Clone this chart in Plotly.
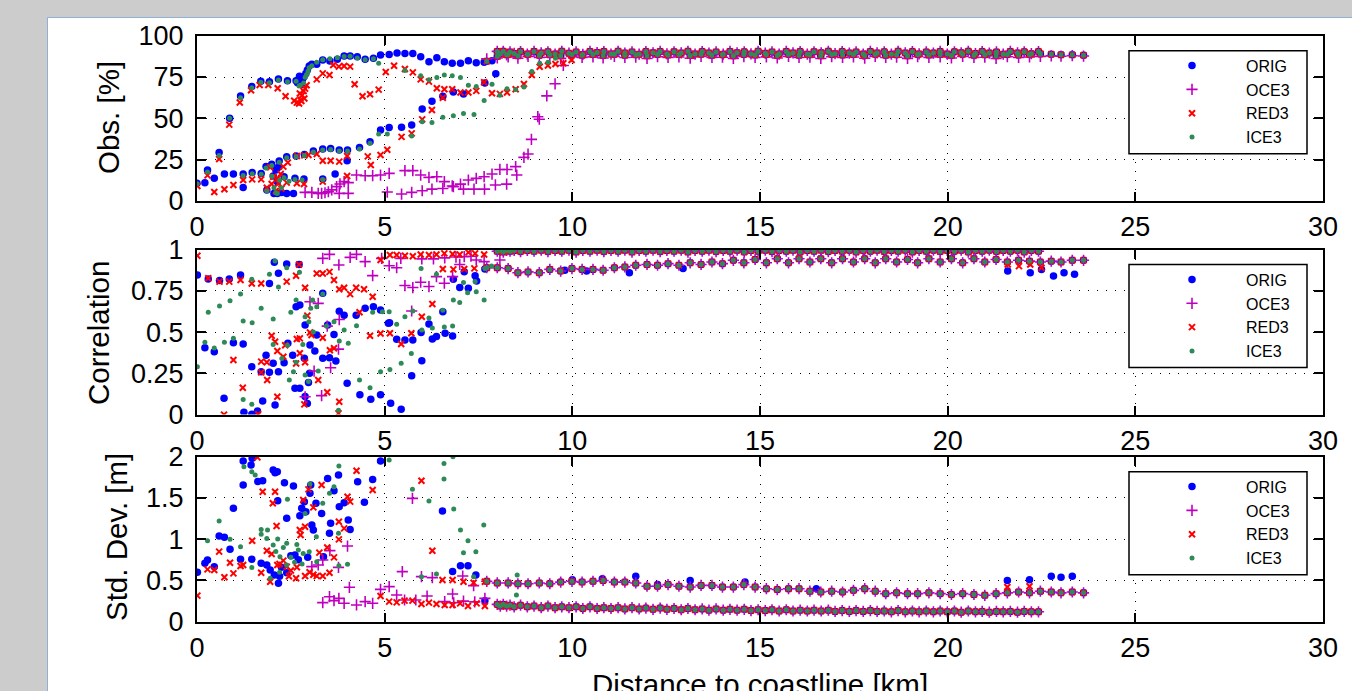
import plotly.graph_objects as go

# ------------------------------------------------------------------ data
series_names = ["ORIG", "OCE3", "RED3", "ICE3"]
x_ticks = [0, 5, 10, 15, 20, 25, 30]
x_tick_labels = ["0", "5", "10", "15", "20", "25", "30"]
obs_ticks = [0, 25, 50, 75, 100]
obs_tick_labels = ["0", "25", "50", "75", "100"]
corr_ticks = [0, 0.25, 0.5, 0.75, 1]
corr_tick_labels = ["0", "0.25", "0.5", "0.75", "1"]
std_ticks = [0, 0.5, 1, 1.5, 2]
std_tick_labels = ["0", "0.5", "1", "1.5", "2"]

# offshore track positions (km)
far_dense_km = [
    8.00, 8.08, 8.16, 8.25, 8.34, 8.45, 8.62, 8.80, 8.98, 9.17,
    9.35, 9.54, 9.72, 9.91, 10.10, 10.28, 10.47, 10.66, 10.84, 11.03,
    11.22, 11.40, 11.59, 11.78, 11.96, 12.15, 12.34, 12.52, 12.71, 12.90,
    13.08, 13.27, 13.46, 13.64, 13.83, 14.02, 14.20, 14.39, 14.58, 14.76,
    14.95, 15.14, 15.32, 15.51, 15.70, 15.88, 16.07, 16.26, 16.44, 16.63,
    16.82, 17.00, 17.19, 17.38, 17.56, 17.75, 17.94, 18.12, 18.31, 18.50,
    18.68, 18.87, 19.06, 19.24, 19.43, 19.62, 19.80, 19.99, 20.18, 20.36,
    20.55, 20.74, 20.92, 21.11, 21.30, 21.48, 21.67, 21.86, 22.04, 22.23,
    22.42]
far_sparse_km = [
    7.72, 8.00, 8.29, 8.55, 8.82, 9.12, 9.40, 9.69, 9.99, 10.26,
    10.55, 10.82, 11.12, 11.40, 11.69, 11.99, 12.27, 12.55, 12.84, 13.14,
    13.43, 13.72, 14.00, 14.29, 14.57, 14.87, 15.17, 15.46, 15.76, 16.04,
    16.33, 16.62, 16.91, 17.20, 17.49, 17.79, 18.07, 18.35, 18.64, 18.93,
    19.20, 19.50, 19.80, 20.10, 20.40, 20.70, 20.99, 21.29, 21.59, 21.89,
    22.18, 22.47, 22.76, 23.02, 23.32, 23.62]

obs_far_band = [
    90.5, 89.0, 90.6, 88.4, 90.2, 89.3, 90.4, 88.8, 90.5, 89.6,
    90.3, 88.9, 90.6, 89.4, 90.2, 88.7, 90.5, 89.8, 90.4, 88.9,
    90.6, 89.5, 90.2, 88.8, 90.4, 89.7, 90.5, 89.0, 90.3, 89.6,
    90.6, 88.9, 90.4, 89.5, 90.2, 88.8, 90.5, 89.7, 90.3, 89.0,
    90.6, 89.4, 90.2, 88.9, 90.5, 89.6, 90.4, 88.8, 90.3, 89.7,
    90.6, 89.1, 90.4, 89.5, 90.2, 88.9, 90.5, 89.6, 90.3, 88.8,
    90.6, 89.6, 90.4, 89.0, 90.2, 89.5, 90.5, 88.9, 90.3, 89.7,
    90.6, 89.2, 90.4, 89.5, 90.2, 88.8, 90.5, 89.6, 90.3, 89.1,
    90.4]
obs_far_track = [
    84.5, 87.5, 88.6, 87.9, 88.8, 88.2, 88.5, 87.8, 88.7, 88.1,
    88.6, 88.0, 88.8, 88.2, 88.5, 87.9, 88.7, 88.3, 88.6, 88.0,
    88.8, 88.2, 88.5, 87.9, 88.7, 88.3, 88.6, 88.0, 88.8, 88.2,
    88.5, 87.9, 88.7, 88.3, 88.6, 88.0, 88.8, 88.2, 88.5, 87.9,
    88.7, 88.3, 88.6, 88.0, 88.8, 88.2, 88.5, 87.9, 88.7, 88.3,
    88.6, 89.0, 88.8, 88.5, 88.4, 88.2]
obs_far_track_oce3 = [
    86.0, 86.5, 87.2, 86.4, 87.5, 86.8, 87.0, 86.3, 87.4, 86.9,
    87.2, 86.5, 87.5, 86.8, 87.0, 86.2, 87.3, 86.9, 87.1, 86.4,
    87.5, 86.8, 87.0, 86.3, 87.4, 86.9, 87.2, 86.5, 87.5, 86.8,
    87.0, 86.2, 87.3, 86.9, 87.1, 86.4, 87.5, 86.8, 87.0, 86.3,
    87.4, 86.9, 87.2, 86.5, 87.5, 86.8, 87.0, 86.2, 87.3, 86.9,
    87.1, 87.5, 87.8, 87.6, 87.9, 87.7]

corr_far_top = [
    0.990, 0.995, 0.985, 0.995, 0.990, 0.995, 0.988, 0.995, 0.990, 0.996,
    0.988, 0.995, 0.990, 0.996, 0.985, 0.995, 0.990, 0.996, 0.988, 0.995,
    0.990, 0.996, 0.985, 0.995, 0.990, 0.996, 0.988, 0.995, 0.990, 0.996,
    0.985, 0.995, 0.990, 0.996, 0.988, 0.995, 0.990, 0.996, 0.985, 0.995,
    0.990, 0.996, 0.988, 0.995, 0.990, 0.996, 0.985, 0.995, 0.990, 0.996,
    0.988, 0.995, 0.990, 0.996, 0.985, 0.995, 0.990, 0.996, 0.988, 0.995,
    0.990, 0.996, 0.985, 0.995, 0.990, 0.996, 0.988, 0.995, 0.990, 0.996,
    0.985, 0.995, 0.990, 0.996, 0.988, 0.995, 0.990, 0.996, 0.985, 0.995,
    0.990]
corr_far_low = [
    0.89, 0.89, 0.885, 0.86, 0.865, 0.86, 0.88, 0.87, 0.885, 0.88,
    0.88, 0.875, 0.89, 0.895, 0.905, 0.91, 0.905, 0.915, 0.905, 0.92,
    0.91, 0.925, 0.915, 0.935, 0.92, 0.94, 0.92, 0.945, 0.92, 0.945,
    0.925, 0.945, 0.92, 0.945, 0.925, 0.945, 0.92, 0.945, 0.925, 0.94,
    0.92, 0.945, 0.925, 0.945, 0.92, 0.945, 0.925, 0.94, 0.925, 0.935,
    0.93, 0.925, 0.93, 0.925, 0.935, 0.935]

std_far_low = [
    0.21, 0.19, 0.21, 0.19, 0.20, 0.18, 0.20, 0.18, 0.19, 0.17,
    0.19, 0.17, 0.18, 0.17, 0.18, 0.16, 0.18, 0.16, 0.17, 0.16,
    0.17, 0.155, 0.17, 0.155, 0.165, 0.15, 0.165, 0.15, 0.16, 0.145,
    0.16, 0.145, 0.155, 0.14, 0.155, 0.14, 0.15, 0.14, 0.15, 0.135,
    0.145, 0.135, 0.145, 0.13, 0.145, 0.13, 0.14, 0.13, 0.14, 0.13,
    0.14, 0.125, 0.135, 0.125, 0.135, 0.125, 0.135, 0.125, 0.13, 0.12,
    0.135, 0.12, 0.13, 0.12, 0.13, 0.12, 0.13, 0.12, 0.13, 0.115,
    0.13, 0.12, 0.125, 0.115, 0.125, 0.12, 0.125, 0.115, 0.125, 0.12,
    0.12]
std_far_up = [
    0.49, 0.47, 0.47, 0.46, 0.46, 0.47, 0.46, 0.48, 0.49, 0.48,
    0.49, 0.50, 0.48, 0.48, 0.47, 0.43, 0.43, 0.45, 0.43, 0.42,
    0.44, 0.44, 0.42, 0.42, 0.45, 0.42, 0.40, 0.39, 0.40, 0.40,
    0.37, 0.36, 0.37, 0.36, 0.38, 0.40, 0.37, 0.34, 0.35, 0.34,
    0.34, 0.35, 0.34, 0.33, 0.34, 0.33, 0.32, 0.34, 0.35, 0.36,
    0.35, 0.37, 0.36, 0.35, 0.36, 0.35]

# near-coast points (km, value)
obs_orig_near = [
    (0.87, 50), (1.16, 63.5), (1.46, 69.2), (1.70, 72.4), (1.93, 72.2), (2.17, 73.8),
    (2.41, 72.8), (2.64, 72.8), (2.68, 71.5), (2.70, 73.2), (2.73, 75.5), (2.76, 72.2),
    (2.78, 70.5), (2.81, 73.6), (2.85, 75.2), (2.90, 77.2), (2.94, 79.2), (2.99, 81.7),
    (3.06, 82.7), (3.19, 82.7), (3.35, 85.3), (3.54, 84.7), (3.74, 85.7), (3.92, 87.7),
    (4.08, 87.7), (4.27, 87.3), (4.48, 85.7), (4.70, 86.3), (4.89, 88.3), (5.12, 88.7),
    (5.33, 89.5), (5.54, 89.3), (5.75, 89.3), (5.96, 87.3), (6.18, 84.3), (6.39, 86.7),
    (6.59, 84.3), (6.80, 83.3), (7.02, 83.3), (7.23, 84.9), (7.44, 83.7), (7.65, 83.9),
    (7.86, 84.9),
    (0.0, 10.7), (0.21, 11.1), (0.28, 18.8), (0.46, 13.7), (0.59, 29.4), (0.73, 16.3),
    (0.97, 16.3), (1.23, 16.3), (1.23, 8.1), (1.47, 17.3), (1.71, 16.7), (1.84, 20.8),
    (1.99, 22.2), (2.19, 24.2), (2.39, 26.8), (2.64, 27.2), (2.86, 28.2), (3.10, 30.2),
    (3.35, 31.5), (3.56, 31.7), (3.79, 30.8), (4.01, 30.8), (4.33, 32.3), (4.61, 35.9),
    (4.89, 42.9), (5.12, 44.4), (5.45, 44.6), (5.72, 46.0), (6.0, 55.6), (6.26, 60.4),
    (6.55, 63.4), (6.83, 66.0), (7.10, 64.8), (7.67, 71.4), (7.96, 77.0),
    (1.86, 6.7), (2.05, 4.6), (2.14, 4.6), (2.25, 5.2), (2.39, 4.6), (2.57, 4.6),
    (2.32, 14.7), (2.61, 13.7), (2.85, 13.3), (3.35, 13.3), (3.68, 16.3), (4.0, 24.4),
    (2.03, 15.1), (2.14, 11.7), (2.10, 18.8), (2.17, 20.4)]
obs_oce3_near = [
    (2.88, 5.2), (3.06, 5.2), (3.23, 4.6), (3.32, 4.6), (3.41, 5.0), (3.50, 5.6),
    (3.59, 6.7), (3.72, 8.7), (3.81, 10.3), (3.92, 11.7), (4.03, 11.1), (3.79, 4.6),
    (4.03, 4.6), (4.25, 15.7), (4.48, 15.3), (4.68, 15.3), (4.89, 15.7), (5.12, 16.7),
    (5.07, 5.4), (5.45, 4.2), (5.72, 5.2), (6.0, 6.2), (6.26, 7.2), (6.55, 7.6),
    (6.83, 8.7), (7.10, 7.2), (7.38, 7.2), (7.66, 7.2), (7.95, 9.7), (8.25, 10.2),
    (5.54, 18.4), (5.75, 18.4), (5.96, 15.7), (6.18, 14.3), (6.39, 14.7), (6.59, 11.7),
    (6.80, 9.1), (7.02, 10.2), (7.23, 12.7), (7.44, 13.7), (7.65, 14.7), (7.86, 16.3),
    (8.07, 19.1), (8.26, 19.1), (8.49, 20.8), (8.52, 15.7), (8.71, 26.4), (8.82, 28.4),
    (8.91, 37.3), (9.08, 51.0), (9.12, 49.5), (9.32, 63.6), (9.54, 70.9), (9.76, 82.0)]
obs_red3_near = [
    (0.86, 46.2), (1.14, 59.6), (1.44, 67.0), (1.67, 70.2), (1.90, 70.2), (2.15, 68.2),
    (2.36, 63.4), (2.59, 60.6), (2.66, 59.5), (2.72, 59.0), (2.76, 61.2), (2.80, 64.0),
    (2.84, 66.5), (2.88, 68.0), (2.92, 70.0), (2.74, 65.0), (2.78, 60.5), (2.86, 62.0),
    (3.19, 73.6), (3.35, 77.2), (3.53, 76.2), (3.63, 82.3), (3.78, 81.3), (3.92, 81.7),
    (4.08, 81.3), (4.20, 70.6), (4.41, 63.4), (4.61, 64.6), (4.84, 67.4), (5.03, 78.0),
    (5.25, 81.8), (5.54, 79.9), (5.75, 77.8), (5.96, 73.6), (6.18, 72.2), (6.39, 68.2),
    (6.59, 67.6), (6.80, 67.6), (7.02, 65.6), (7.23, 65.6), (7.44, 66.6), (7.65, 71.8),
    (7.86, 65.2), (8.07, 64.8), (8.26, 65.6), (8.49, 67.6), (8.71, 70.8), (8.92, 76.2),
    (9.13, 81.2), (9.35, 82.0), (9.55, 82.9), (9.76, 83.3), (9.98, 85.3),
    (0.01, 9.1), (0.28, 15.5), (0.46, 5.4), (0.59, 25.4), (0.73, 7.1), (0.97, 9.7),
    (1.23, 12.7), (1.47, 13.1), (1.71, 13.1), (1.95, 20.4), (2.03, 14.7), (2.15, 13.7),
    (2.23, 16.3), (2.30, 20.8), (2.42, 23.2), (2.66, 27.2), (2.86, 27.6), (2.97, 27.8),
    (3.19, 28.4), (3.35, 24.4), (3.56, 24.4), (3.79, 23.8), (4.00, 27.2), (4.55, 27.0),
    (4.63, 21.8), (4.89, 27.8), (5.07, 31.0), (5.45, 38.8), (5.72, 40.9), (6.0, 49.4),
    (6.26, 55.1), (6.55, 62.5),
    (1.99, 10.3), (2.17, 10.7), (2.39, 11.1), (2.66, 10.7), (2.85, 10.3), (3.35, 11.7),
    (4.0, 15.1), (1.86, 8.0), (2.10, 6.0), (2.25, 7.5)]
obs_ice3_near = [
    (0.87, 50.0), (1.16, 62.5), (1.46, 68.5), (1.70, 71.8), (1.93, 71.6), (2.17, 73.2),
    (2.41, 72.2), (2.64, 72.5), (2.72, 69.5), (2.75, 70.0), (2.84, 71.4), (2.88, 74.8),
    (2.92, 76.5), (2.96, 78.5), (2.99, 80.6), (3.06, 81.8), (3.19, 84.0), (3.35, 85.5),
    (3.54, 86.0), (3.74, 86.6), (3.92, 87.4), (4.08, 87.5), (4.27, 86.5), (4.48, 85.5),
    (4.70, 86.0), (4.84, 83.4), (5.54, 78.9), (5.96, 75.7), (6.18, 73.3), (6.39, 74.7),
    (6.59, 76.3), (6.80, 75.7), (7.02, 74.7), (7.23, 70.0), (7.44, 69.3), (7.65, 60.8),
    (7.86, 70.6), (8.07, 63.9), (8.26, 67.9), (8.49, 67.5), (8.71, 68.9), (8.92, 78.4),
    (9.13, 83.3), (9.35, 84.0), (9.55, 86.3),
    (0.0, 10.5), (0.28, 17.5), (0.59, 27.6), (1.23, 15.5), (1.47, 16.5), (1.71, 16.2),
    (1.84, 20.0), (1.99, 21.5), (2.19, 23.5), (2.39, 26.2), (2.64, 26.8), (2.86, 27.6),
    (3.10, 29.6), (3.35, 30.9), (3.56, 31.2), (3.79, 30.2), (4.01, 30.2), (4.33, 31.4),
    (4.61, 35.0), (4.84, 40.6), (5.07, 40.6), (5.72, 39.3), (6.0, 48.0), (6.26, 47.5),
    (6.55, 50.6), (6.83, 51.6), (7.10, 53.0), (7.38, 52.4),
    (1.86, 6.0), (2.05, 8.0), (2.10, 5.0), (2.14, 4.6), (2.20, 12.5), (2.25, 8.0),
    (2.32, 14.0), (2.61, 13.0), (3.35, 13.0), (2.00, 15.0), (2.45, 12.0), (2.80, 12.7)]

corr_orig_near = [
    (0.01, 0.846), (0.30, 0.822), (0.60, 0.812), (0.86, 0.822), (1.16, 0.846), (1.93, 0.795),
    (2.17, 0.856), (2.06, 0.923), (2.39, 0.912), (2.72, 0.91), (0.21, 0.405), (0.46, 0.381),
    (0.97, 0.436), (1.23, 0.428), (0.72, 0.099), (1.25, 0.014), (1.46, 0.002), (1.61, 0.022),
    (1.75, 0.082), (2.08, 0.058), (1.46, 0.29), (1.71, 0.26), (1.84, 0.36), (1.93, 0.256),
    (2.03, 0.311), (2.17, 0.26), (2.32, 0.315), (2.42, 0.432), (2.55, 0.36), (2.64, 0.654),
    (2.74, 0.664), (2.61, 0.159), (2.74, 0.159), (2.86, 0.341), (2.88, 0.543), (2.94, 0.068),
    (3.01, 0.422), (3.14, 0.386), (3.19, 0.482), (3.35, 0.735), (3.35, 0.341), (3.48, 0.543),
    (3.53, 0.345), (3.65, 0.486), (3.70, 0.325), (3.79, 0.626), (3.92, 0.602), (4.00, 0.19),
    (4.24, 0.602), (4.34, 0.12), (4.48, 0.644), (4.63, 0.093), (4.70, 0.654), (4.89, 0.12),
    (4.89, 0.634), (5.10, 0.553), (5.13, 0.557), (5.32, 0.456), (5.54, 0.452), (5.75, 0.452),
    (5.99, 0.327), (5.72, 0.236), (5.16, 0.069), (5.44, 0.033), (5.97, 0.497), (6.18, 0.549),
    (6.27, 0.458), (6.38, 0.473), (6.55, 0.624), (6.61, 0.493), (6.81, 0.477), (6.83, 0.82),
    (7.00, 0.77), (7.23, 0.766), (7.12, 0.866), (7.41, 0.842), (7.45, 0.81), (7.67, 0.882),
    (2.88, 0.11), (3.00, 0.25), (2.97, 0.195)]
corr_oce3_near = [
    (3.35, 0.947), (3.53, 0.971), (3.78, 0.907), (4.08, 0.953), (4.25, 0.971), (4.48, 0.927),
    (4.68, 0.842), (3.01, 0.684), (3.23, 0.674), (3.47, 0.536), (3.79, 0.576), (3.77, 0.397),
    (3.12, 0.264), (3.56, 0.284), (2.88, 0.108), (3.32, 0.115), (4.92, 0.947), (5.12, 0.902),
    (5.32, 0.89), (5.54, 0.782), (5.75, 0.77), (5.96, 0.802), (6.18, 0.776), (6.38, 0.836),
    (6.59, 0.796), (6.81, 0.836), (7.00, 0.91), (7.12, 0.957), (7.44, 0.937), (7.65, 0.927),
    (8.07, 0.937), (5.72, 0.628), (5.43, 0.947), (5.99, 0.944), (6.30, 0.944), (6.60, 0.95),
    (6.90, 0.955), (7.30, 0.96)]
corr_red3_near = [
    (0.01, 0.963), (0.30, 0.826), (0.60, 0.806), (0.86, 0.806), (1.16, 0.816), (1.46, 0.795),
    (1.71, 0.795), (2.39, 0.806), (2.72, 0.91), (2.64, 0.842), (2.88, 0.769), (3.19, 0.855),
    (3.35, 0.855), (3.53, 0.865), (3.65, 0.816), (3.79, 0.76), (3.92, 0.769), (4.08, 0.73),
    (4.24, 0.769), (4.45, 0.76), (4.68, 0.714), (4.89, 0.937), (5.14, 0.967), (0.97, 0.331),
    (1.22, 0.163), (0.72, 0.0), (1.71, 0.321), (1.71, 0.256), (1.86, 0.317), (1.87, 0.21),
    (1.99, 0.478), (2.08, 0.442), (2.14, 0.385), (2.14, 0.108), (1.63, 0.002), (2.30, 0.351),
    (2.35, 0.42), (2.64, 0.31), (2.66, 0.458), (2.74, 0.372), (2.88, 0.317), (2.86, 0.062),
    (2.94, 0.60), (3.01, 0.498), (3.05, 0.482), (3.23, 0.21), (3.35, 0.466), (3.47, 0.135),
    (3.54, 0.39), (3.65, 0.402), (3.79, 0.078), (3.77, 0.008), (4.33, 0.62), (4.61, 0.478),
    (4.89, 0.492), (2.74, 0.462), (5.14, 0.493), (5.44, 0.428), (5.71, 0.493), (5.99, 0.593),
    (6.27, 0.67), (5.32, 0.967), (5.54, 0.963), (5.75, 0.96), (5.96, 0.97), (6.18, 0.967),
    (6.38, 0.97), (6.59, 0.977), (6.81, 0.973), (7.00, 0.97), (7.23, 0.983), (7.41, 0.977),
    (7.65, 0.97), (6.55, 0.882), (6.83, 0.88), (7.12, 0.882), (7.39, 0.886)]
corr_ice3_near = [
    (0.01, 0.29), (0.21, 0.438), (0.30, 0.62), (0.46, 0.403), (0.60, 0.658), (0.73, 0.438),
    (0.88, 0.69), (0.97, 0.462), (1.16, 0.731), (1.23, 0.567), (1.23, 0.092), (1.46, 0.82),
    (1.47, 0.557), (1.46, 0.062), (1.71, 0.644), (1.93, 0.85), (2.03, 0.579), (2.03, 0.425),
    (2.08, 0.931), (2.17, 0.774), (2.39, 0.89), (2.41, 0.421), (2.46, 0.21), (2.57, 0.26),
    (2.64, 0.317), (2.73, 0.862), (2.64, 0.694), (2.88, 0.593), (2.82, 0.425), (2.97, 0.20),
    (2.98, 0.563), (3.03, 0.644), (3.08, 0.694), (3.19, 0.654), (3.35, 0.731), (3.23, 0.264),
    (3.45, 0.537), (3.65, 0.563), (3.77, 0.026), (3.79, 0.446), (3.92, 0.513), (4.03, 0.432),
    (4.25, 0.539), (4.33, 0.21), (4.61, 0.163), (4.68, 0.62), (4.89, 0.26), (4.94, 0.624),
    (5.12, 0.624), (5.14, 0.274), (5.32, 0.547), (5.44, 0.311), (5.54, 0.593), (5.71, 0.371),
    (5.75, 0.628), (5.97, 0.886), (5.99, 0.512), (6.18, 0.586), (6.27, 0.525), (6.38, 0.85),
    (6.55, 0.632), (6.59, 0.531), (6.81, 0.537), (6.83, 0.694), (7.00, 0.68), (7.10, 0.80),
    (7.21, 0.739), (7.41, 0.806), (7.44, 0.745), (7.65, 0.694), (7.67, 0.886), (7.85, 0.90),
    (2.26, 0.34), (2.88, 0.24), (3.10, 0.50), (2.50, 0.62)]

std_orig_near = [
    (0.01, 0.599), (0.21, 0.707), (0.28, 0.748), (0.46, 0.667), (0.59, 1.039), (0.73, 1.023),
    (0.88, 0.877), (0.97, 1.374), (1.16, 0.756), (1.23, 1.657), (1.23, 1.948), (1.46, 0.756),
    (1.47, 1.98), (1.44, 1.90), (1.62, 1.70), (1.75, 1.71), (1.71, 0.707), (1.86, 0.687),
    (1.95, 0.627), (2.03, 1.839), (2.08, 1.806), (2.14, 1.818), (2.06, 0.566), (2.17, 0.465),
    (2.15, 1.467), (2.33, 1.685), (2.39, 1.253), (2.39, 0.594), (2.57, 1.645), (2.61, 0.808),
    (2.74, 1.285), (2.79, 1.374), (2.86, 1.455), (2.90, 1.334), (3.01, 1.556), (3.03, 1.657),
    (3.06, 1.172), (3.10, 1.111), (3.17, 1.435), (3.32, 1.313), (3.37, 0.788), (3.48, 1.737),
    (3.56, 1.192), (3.65, 1.588), (3.77, 1.777), (3.79, 1.394), (3.92, 1.443), (4.03, 1.232),
    (4.08, 1.119), (3.53, 1.071), (4.28, 1.697), (4.46, 1.447), (4.68, 1.725), (4.89, 1.948),
    (6.54, 1.341), (7.02, 0.679), (7.22, 0.679), (6.81, 0.607), (7.43, 0.566), (7.67, 0.255),
    (2.25, 0.66), (2.50, 0.80), (2.20, 0.55), (2.95, 0.78), (2.70, 0.75)]
std_oce3_near = [
    (3.35, 0.231), (3.53, 0.303), (3.65, 0.255), (3.78, 0.283), (3.92, 0.223), (4.06, 0.417),
    (4.25, 0.203), (4.48, 0.243), (4.68, 0.223), (4.89, 0.392), (3.06, 0.667), (3.23, 0.687),
    (3.35, 0.748), (3.77, 0.659), (4.01, 0.917), (3.54, 0.861), (5.12, 0.425), (5.32, 0.323),
    (5.47, 0.607), (5.74, 1.495), (5.98, 0.546), (6.27, 0.534), (6.81, 0.336), (7.08, 0.554),
    (7.37, 0.437), (7.67, 0.283), (5.53, 0.263), (5.83, 0.263), (6.13, 0.311), (6.60, 0.243),
    (6.84, 0.23), (7.10, 0.25), (7.40, 0.24)]
std_red3_near = [
    (0.01, 0.316), (0.28, 0.634), (0.46, 0.626), (0.59, 0.849), (0.73, 0.538), (0.88, 0.715),
    (0.97, 0.586), (1.16, 0.675), (1.23, 0.687), (1.47, 0.982), (1.61, 1.992), (1.71, 0.594),
    (1.75, 1.576), (1.86, 0.861), (1.95, 0.485), (1.99, 0.82), (2.02, 1.435), (2.12, 1.16),
    (2.08, 1.576), (2.14, 0.687), (2.30, 0.74), (2.39, 0.667), (2.64, 0.526), (2.66, 0.659),
    (2.74, 1.111), (2.76, 1.051), (2.88, 1.151), (2.83, 1.475), (2.97, 1.604), (2.88, 0.554),
    (3.10, 1.386), (3.19, 0.554), (3.26, 0.837), (3.32, 1.657), (3.35, 0.554), (3.47, 0.90),
    (3.53, 0.594), (3.65, 0.78), (3.78, 1.212), (3.78, 0.998), (3.92, 1.131), (4.01, 1.515),
    (4.08, 1.455), (4.25, 1.83), (4.68, 1.596), (4.89, 0.311), (5.12, 0.243), (5.32, 0.234),
    (5.53, 0.255), (5.74, 0.255), (5.98, 0.214), (6.18, 0.231), (6.38, 0.214), (6.60, 0.202),
    (6.81, 0.202), (7.01, 0.222), (7.22, 0.19), (7.45, 0.222), (7.67, 0.19), (5.98, 1.709),
    (6.27, 0.861), (6.54, 0.505), (6.81, 0.505), (7.10, 0.485), (7.37, 0.473), (7.67, 0.485),
    (2.50, 0.62), (2.20, 0.70), (2.45, 0.55), (3.00, 0.60), (3.10, 0.57)]
std_ice3_near = [
    (0.28, 0.982), (0.59, 1.22), (0.88, 0.998), (1.16, 0.91), (1.25, 1.879), (1.46, 1.818),
    (1.55, 1.778), (1.71, 1.119), (1.71, 1.059), (1.88, 1.111), (1.86, 1.01), (2.15, 1.002),
    (2.03, 0.93), (1.46, 0.658), (1.95, 0.526), (2.39, 0.687), (2.21, 0.788), (2.39, 0.95),
    (2.66, 0.937), (2.70, 0.869), (2.83, 0.828), (2.99, 0.849), (3.19, 0.728), (2.41, 1.483),
    (2.88, 1.313), (3.01, 1.669), (3.53, 1.556), (3.65, 1.637), (3.78, 1.887), (3.35, 1.435),
    (3.18, 1.03), (3.77, 1.071), (4.01, 0.695), (3.78, 0.679), (5.74, 1.604), (6.18, 1.462),
    (6.58, 1.919), (6.58, 1.729), (6.82, 2.0), (6.84, 1.366), (7.02, 1.111), (7.22, 0.982),
    (7.10, 0.836), (7.43, 0.849), (7.64, 1.172), (5.98, 0.546), (6.38, 0.578), (7.37, 0.546),
    (8.51, 0.323), (8.53, 0.566), (5.12, 1.96), (2.10, 0.85), (2.50, 0.78), (2.60, 0.72),
    (2.30, 0.90), (2.80, 0.70), (2.20, 0.60)]

# extra offshore points where one product departs from the common tracks
corr_orig_extra = [(9.80, 0.875), (10.38, 0.87), (11.52, 0.86), (12.95, 0.885), (21.60, 0.87),
                   (22.20, 0.86), (22.50, 0.88), (22.82, 0.84), (23.10, 0.86), (23.38, 0.85)]
corr_red3_extra = [(21.60, 0.91), (21.90, 0.90), (22.20, 0.91), (22.50, 0.89)]
std_orig_extra = [(10.00, 0.51), (10.80, 0.52), (11.69, 0.55), (12.27, 0.45), (13.14, 0.50),
                  (14.60, 0.48), (16.50, 0.40), (21.59, 0.50), (22.18, 0.51), (22.76, 0.55),
                  (23.02, 0.54), (23.32, 0.55)]
std_red3_extra = [(21.59, 0.42), (22.18, 0.43)]

for a, b in [(far_dense_km, obs_far_band), (far_dense_km, corr_far_top), (far_dense_km, std_far_low),
             (far_sparse_km, obs_far_track), (far_sparse_km, obs_far_track_oce3),
             (far_sparse_km, corr_far_low), (far_sparse_km, std_far_up)]:
    assert len(a) == len(b), (len(a), len(b))

# ------------------------------------------------------------------ assemble
def assemble(near, tracks, extra=()):
    xs = [p[0] for p in near]
    ys = [p[1] for p in near]
    for tx, ty in tracks:
        xs += list(tx)
        ys += list(ty)
    xs += [p[0] for p in extra]
    ys += [p[1] for p in extra]
    return xs, ys

panel_data = [
    {   # Obs
        "ORIG": assemble(obs_orig_near, [(far_dense_km, obs_far_band), (far_sparse_km, obs_far_track)]),
        "OCE3": assemble(obs_oce3_near, [(far_dense_km, obs_far_band), (far_sparse_km, obs_far_track_oce3)]),
        "RED3": assemble(obs_red3_near, [(far_dense_km, obs_far_band), (far_sparse_km, obs_far_track)]),
        "ICE3": assemble(obs_ice3_near, [(far_dense_km, obs_far_band), (far_sparse_km, obs_far_track)]),
    },
    {   # Correlation
        "ORIG": assemble(corr_orig_near, [(far_dense_km, corr_far_top), (far_sparse_km, corr_far_low)], corr_orig_extra),
        "OCE3": assemble(corr_oce3_near, [(far_dense_km, corr_far_top), (far_sparse_km, corr_far_low)]),
        "RED3": assemble(corr_red3_near, [(far_dense_km, corr_far_top), (far_sparse_km, corr_far_low)], corr_red3_extra),
        "ICE3": assemble(corr_ice3_near, [(far_dense_km, corr_far_top), (far_sparse_km, corr_far_low)]),
    },
    {   # Std dev
        "ORIG": assemble(std_orig_near, [(far_dense_km, std_far_low), (far_sparse_km, std_far_up)], std_orig_extra),
        "OCE3": assemble(std_oce3_near, [(far_dense_km, std_far_low), (far_sparse_km, std_far_up)]),
        "RED3": assemble(std_red3_near, [(far_dense_km, std_far_low), (far_sparse_km, std_far_up)], std_red3_extra),
        "ICE3": assemble(std_ice3_near, [(far_dense_km, std_far_low), (far_sparse_km, std_far_up)]),
    },
]

# ------------------------------------------------------------------ style
W, H = 1352, 691
FONT = "Liberation Sans, Arial, Helvetica, sans-serif"
marker_styles = {
    "ORIG": dict(symbol="circle", size=7.5, color="#0000ff", line=dict(width=0)),
    "OCE3": dict(symbol="cross-thin", size=8, color="#c000c0", line=dict(width=1.6, color="#c000c0")),
    "RED3": dict(symbol="x-thin", size=6, color="#ff0000", line=dict(width=2, color="#ff0000")),
    "ICE3": dict(symbol="circle", size=5, color="#2e8b57", line=dict(width=0)),
}

def fx(px):
    return px / W

def fy(py):
    return 1 - py / H

x_dom = [fx(197), fx(1323)]
panel_px = [(35.7, 201.0), (249.6, 414.6), (456.7, 621.7)]   # top, bottom in px
y_ranges = [[0, 100], [0, 1], [0, 2]]
y_tickvals = [obs_ticks, corr_ticks, std_ticks]
y_ticktexts = [obs_tick_labels, corr_tick_labels, std_tick_labels]
y_titles = ["Obs. [%]", "Correlation", "Std. Dev. [m]"]
y_title_pos = [(108, 118), (98, 333), (116, 537)]
legend_keys = ["legend", "legend2", "legend3"]

fig = go.Figure()
layout = dict(
    template="none",
    width=W, height=H, autosize=False, margin=dict(l=0, r=0, t=0, b=0, pad=0),
    paper_bgcolor="#cccccc", plot_bgcolor="white",
    font=dict(family=FONT, color="black"),
    shapes=[], annotations=[],
)

common_axis = dict(
    automargin=False,
    ticks="inside", ticklen=9, tickwidth=1.5, tickcolor="black",
    showline=True, linecolor="black", linewidth=2, mirror="ticks",
    showgrid=True, gridcolor="black", griddash="1px,8px", gridwidth=1,
    zeroline=False, tickfont=dict(family=FONT, size=27, color="black"),
)

# white figure card
layout["shapes"].append(dict(type="rect", xref="paper", yref="paper", layer="below",
                             x0=fx(47.5), x1=fx(1400), y0=fy(720), y1=fy(17.5),
                             fillcolor="white", line=dict(color="#8fb2d4", width=1)))

for i in range(3):
    n = "" if i == 0 else str(i + 1)
    top, bot = panel_px[i]
    layout["xaxis" + n] = dict(common_axis, domain=x_dom, anchor="y" + n, range=[0, 30],
                               tickvals=x_ticks, ticktext=x_tick_labels, ticklabelstandoff=1)
    layout["yaxis" + n] = dict(common_axis, domain=[fy(bot), fy(top)], anchor="x" + n,
                               range=y_ranges[i], tickvals=y_tickvals[i], ticktext=y_ticktexts[i],
                               ticklabelstandoff=6)
    for name in series_names:
        xs, ys = panel_data[i][name]
        fig.add_trace(go.Scatter(
            x=xs, y=ys, mode="markers", name=name,
            marker=marker_styles[name], xaxis="x" + n, yaxis="y" + n,
            legend=legend_keys[i], showlegend=True, hoverinfo="skip"))
    # legend box
    bx_top = top + 15
    layout["shapes"].append(dict(type="rect", xref="paper", yref="paper", layer="above",
                                 x0=fx(1129), x1=fx(1307), y0=fy(bx_top + 103), y1=fy(bx_top),
                                 fillcolor="white", line=dict(color="black", width=1.5)))
    layout[legend_keys[i]] = dict(
        x=fx(1138), y=fy(bx_top - 2), xanchor="left", yanchor="top",
        bgcolor="rgba(0,0,0,0)", borderwidth=0, itemwidth=98, tracegroupgap=0,
        font=dict(family=FONT, size=16, color="black"), traceorder="normal")
    tx, ty = y_title_pos[i]
    layout["annotations"].append(dict(text=y_titles[i], xref="paper", yref="paper",
                                      x=fx(tx), y=fy(ty), xanchor="center", yanchor="middle",
                                      textangle=-90, showarrow=False,
                                      font=dict(family=FONT, size=29.5, color="black")))

layout["annotations"].append(dict(text="Distance to coastline [km]", xref="paper", yref="paper",
                                  x=fx(760), y=fy(666), xanchor="center", yanchor="top",
                                  showarrow=False, font=dict(family=FONT, size=29.5, color="black")))

fig.update_layout(**layout)
fig.write_html("out.html")
